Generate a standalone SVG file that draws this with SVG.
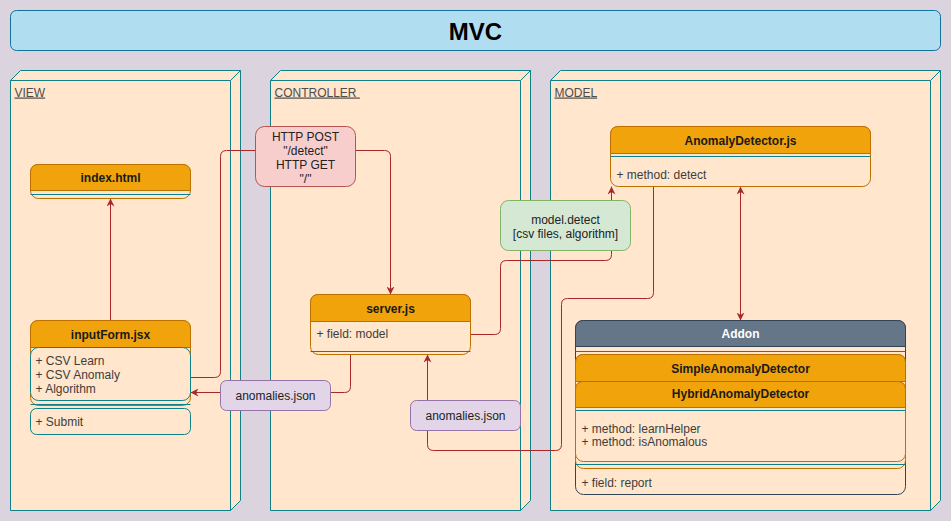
<svg xmlns="http://www.w3.org/2000/svg" width="951" height="521" viewBox="0 0 951 521">
<defs>
<style>
text{font-family:"Liberation Sans",Arial,Helvetica,sans-serif;font-size:12px}
.pkg{fill:#ffe6cc;stroke:#0e8088;stroke-width:1}
.pkgl{fill:none;stroke:#0e8088;stroke-width:1}
.plabel{fill:#4d4d4d;text-decoration:underline}
.body{fill:#ffe6cc;stroke:#bd7000;stroke-width:1}
.hdr{fill:#f0a30a;stroke:#bd7000;stroke-width:1}
.teal{fill:#ffe6cc;stroke:#0e8088;stroke-width:1}
.sep{stroke:#0e8088;stroke-width:1;fill:none}
.ht{font-weight:bold;fill:#1a1a1a;text-anchor:middle}
.at{fill:#3d3d3d}
.conn{fill:none;stroke:#a82828;stroke-width:1}
.lbl{text-anchor:middle;fill:#222}
</style>
<marker id="arr" viewBox="0 0 10 10" refX="10" refY="5" markerWidth="8" markerHeight="8" markerUnits="userSpaceOnUse" orient="auto-start-reverse">
<path d="M0,0 L10,5 L0,10 L3,5 Z" fill="#a82828"/>
</marker>
</defs>
<rect x="0" y="0" width="951" height="521" fill="#dbd3dd"/>
<g transform="translate(0.5,0.5)">
<g id="title">
<rect x="10" y="10" width="930" height="40" rx="6" fill="#b1ddf0" stroke="#10739e"/>
<text x="475" y="39.5" style="font-size:24px;font-weight:bold;text-anchor:middle;fill:#000">MVC</text>
</g>
<g id="pkg-view">
<path class="pkg" d="M10,80 L20,70 L240,70 L240,500 L230,510 L10,510 Z"/>
<path class="pkgl" d="M10,80 L230,80 L240,70 M230,80 L230,510"/>
<text class="plabel" x="14" y="96">VIEW</text>
</g>
<g id="pkg-controller">
<path class="pkg" d="M270,80 L280,70 L530,70 L530,500 L520,510 L270,510 Z"/>
<path class="pkgl" d="M270,80 L520,80 L530,70 M520,80 L520,510"/>
<text class="plabel" x="274" y="96" xml:space="preserve">CONTROLLER </text>
</g>
<g id="pkg-model">
<path class="pkg" d="M550,80 L560,70 L940,70 L940,500 L930,510 L550,510 Z"/>
<path class="pkgl" d="M550,80 L930,80 L940,70 M930,80 L930,510"/>
<text class="plabel" x="554" y="96">MODEL</text>
</g>
<g id="connectors">
<path class="conn" d="M110,320 L110,198" marker-end="url(#arr)"/>
<path class="conn" d="M190,377 L214,377 Q220,377 220,371 L220,156 Q220,150 226,150 L384,150 Q390,150 390,156 L390,294" marker-end="url(#arr)"/>
<path class="conn" d="M350,354 L350,386 Q350,392 344,392 L190,392" marker-end="url(#arr)"/>
<path class="conn" d="M470,334 L494,334 Q500,334 500,328 L500,266 Q500,260 506,260 L605,260 Q611,260 611,254 L611,186" marker-end="url(#arr)"/>
<path class="conn" d="M653,186 L653,292 Q653,298 647,298 L567,298 Q561,298 561,304 L561,444 Q561,450 555,450 L433,450 Q427,450 427,444 L427,354" marker-end="url(#arr)"/>
<path class="conn" d="M740,186 L740,320" marker-start="url(#arr)" marker-end="url(#arr)"/>
</g>
<g id="index-html">
<rect class="body" x="30" y="164" width="160" height="34" rx="8"/>
<path class="hdr" d="M30,190 L30,172 Q30,164 38,164 L182,164 Q190,164 190,172 L190,190 Z"/>
<line class="sep" x1="30" y1="194" x2="190" y2="194"/>
<text class="ht" x="110" y="181">index.html</text>
</g>
<g id="inputform-jsx">
<rect class="body" x="30" y="320" width="160" height="85" rx="8"/>
<path class="hdr" d="M30,347 L30,328 Q30,320 38,320 L182,320 Q190,320 190,328 L190,347 Z"/>
<rect class="teal" x="30" y="347" width="160" height="53" rx="8"/>
<line class="sep" x1="30" y1="404" x2="190" y2="404"/>
<rect class="teal" x="30" y="408" width="160" height="26" rx="6"/>
<text class="ht" x="110" y="338">inputForm.jsx</text>
<text class="at" x="35" y="364">+ CSV Learn</text>
<text class="at" x="35" y="378">+ CSV Anomaly</text>
<text class="at" x="35" y="392">+ Algorithm</text>
<text class="at" x="35" y="425">+ Submit</text>
</g>
<g id="server-js">
<rect class="body" x="310" y="294" width="160" height="60" rx="8"/>
<path class="hdr" d="M310,321 L310,302 Q310,294 318,294 L462,294 Q470,294 470,302 L470,321 Z"/>
<line class="sep" x1="310" y1="351" x2="470" y2="351"/>
<text class="ht" x="390" y="312">server.js</text>
<text class="at" x="316" y="337">+ field: model</text>
</g>
<g id="anomalydetector-js">
<rect class="body" x="610" y="126" width="260" height="60" rx="8"/>
<path class="hdr" d="M610,153 L610,134 Q610,126 618,126 L862,126 Q870,126 870,134 L870,153 Z"/>
<line class="sep" x1="610" y1="156" x2="870" y2="156"/>
<text class="ht" x="740" y="144">AnomalyDetector.js</text>
<text class="at" x="616" y="178">+ method: detect</text>
</g>
<g id="addon">
<rect x="575" y="320" width="330" height="174" rx="8" fill="#ffe6cc" stroke="#314354"/>
<path d="M575,346 L575,328 Q575,320 583,320 L897,320 Q905,320 905,328 L905,346 Z" fill="#647687" stroke="#314354"/>
<line class="sep" x1="575" y1="351" x2="905" y2="351"/>
<text x="740" y="337.5" style="font-weight:bold;fill:#ffffff;text-anchor:middle">Addon</text>
<text class="at" x="581" y="486">+ field: report</text>
</g>
<g id="simpleanomalydetector">
<rect class="body" x="575" y="354" width="330" height="114" rx="8"/>
<path class="hdr" d="M575,381 L575,362 Q575,354 583,354 L897,354 Q905,354 905,362 L905,381 Z"/>
<text class="ht" x="740" y="372">SimpleAnomalyDetector</text>
</g>
<g id="hybridanomalydetector">
<rect class="body" x="575" y="381" width="330" height="80" rx="8"/>
<path class="hdr" d="M575,407 L575,389 Q575,381 583,381 L897,381 Q905,381 905,389 L905,407 Z"/>
<line class="sep" x1="575" y1="410" x2="905" y2="410"/>
<text class="ht" x="740" y="397.5">HybridAnomalyDetector</text>
<text class="at" x="581" y="432">+ method: learnHelper</text>
<text class="at" x="581" y="445.5">+ method: isAnomalous</text>
</g>
<g id="addon-separator">
<line class="sep" x1="575" y1="464" x2="905" y2="464"/>
</g>
<g id="label-http">
<rect x="255" y="126" width="100" height="60" rx="9" fill="#f8cecc" stroke="#b85450"/>
<text class="lbl" x="305" y="140">HTTP POST</text>
<text class="lbl" x="305" y="154">"/detect"</text>
<text class="lbl" x="305" y="168">HTTP GET</text>
<text class="lbl" x="305" y="182">"/"</text>
</g>
<g id="label-model-detect">
<rect x="500" y="200" width="130" height="50" rx="8" fill="#d5e8d4" stroke="#82b366"/>
<text class="lbl" x="565" y="223">model.detect</text>
<text class="lbl" x="565" y="237">[csv files, algorithm]</text>
</g>
<g id="label-anomalies-1">
<rect x="220" y="380" width="110" height="30" rx="6" fill="#e1d5e7" stroke="#9673a6"/>
<text class="lbl" x="275" y="399.5">anomalies.json</text>
</g>
<g id="label-anomalies-2">
<rect x="410" y="400" width="110" height="30" rx="6" fill="#e1d5e7" stroke="#9673a6"/>
<text class="lbl" x="465" y="419.5">anomalies.json</text>
</g>
</g>
</svg>
